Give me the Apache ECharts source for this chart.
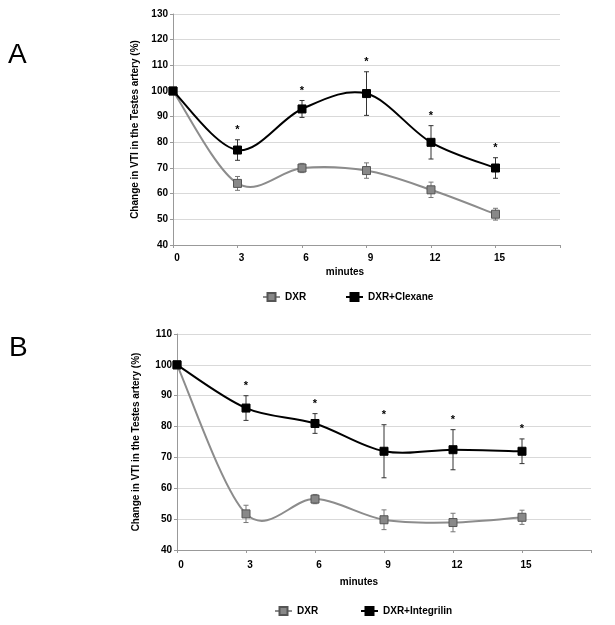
<!DOCTYPE html>
<html><head><meta charset="utf-8">
<script src="https://cdn.jsdelivr.net/npm/echarts@6/dist/echarts.min.js"></script>
<style>html,body{margin:0;padding:0;background:#fff}#c{width:615px;height:625px}</style>
</head><body><div id="c"></div>
<script>
const minutes = [0, 3, 6, 9, 12, 15];
const aDXR = [100, 64, 70, 69, 61.5, 52];
const aDXRErr = [0, 2.7, 1.8, 3, 3, 2.3];
const aClexane = [100, 77, 93, 99, 80, 70];
const aClexaneErr = [0, 4, 3.3, 8.5, 6.5, 4];
const bDXR = [100, 51.7, 56.5, 49.8, 48.9, 50.6];
const bDXRErr = [0, 2.8, 1.5, 3.2, 3, 2.3];
const bIntegrilin = [100, 86, 81, 72, 72.5, 72];
const bIntegrilinErr = [0, 4, 3.2, 8.6, 6.5, 4];
const starred = [false, true, true, true, true, true];
const yTitle = 'Change in VTI in the Testes artery (%)';
const xTitle = 'minutes';

const FONT = "'Liberation Sans', Arial, sans-serif";
const GRAY_LINE = '#8c8c8c';
const chart = echarts.init(document.getElementById('c'), null, {renderer: 'canvas'});

function pts(vals) { return minutes.map((m, i) => [m, vals[i]]); }
function errData(vals, errs) {
  return minutes.map((m, i) => [m, vals[i] - errs[i], vals[i] + errs[i]]).filter((d, i) => errs[i] > 0);
}
function starData(vals, errs) {
  return minutes.map((m, i) => [m, vals[i] + errs[i]]).filter((d, i) => starred[i]);
}
function errSeries(gi, vals, errs, color) {
  return {
    type: 'custom', xAxisIndex: gi, yAxisIndex: gi, z: 2, silent: true,
    data: errData(vals, errs), encode: {x: 0, y: [1, 2]},
    renderItem: function (params, api) {
      const x = api.value(0);
      const lo = api.coord([x, api.value(1)]);
      const hi = api.coord([x, api.value(2)]);
      const w = 2.5;
      const st = {stroke: color, lineWidth: 1};
      return {type: 'group', children: [
        {type: 'line', shape: {x1: lo[0], y1: lo[1], x2: hi[0], y2: hi[1]}, style: st},
        {type: 'line', shape: {x1: lo[0] - w, y1: lo[1], x2: lo[0] + w, y2: lo[1]}, style: st},
        {type: 'line', shape: {x1: hi[0] - w, y1: hi[1], x2: hi[0] + w, y2: hi[1]}, style: st}
      ]};
    }
  };
}
// Excel-style smoothed curve (Catmull-Rom style Bezier, 1/6 control points, pixel space)
function curveSeries(gi, vals, color, z) {
  return {
    type: 'custom', xAxisIndex: gi, yAxisIndex: gi, z: z, silent: true,
    data: pts(vals), encode: {x: 0, y: 1},
    renderItem: function (params, api) {
      const i = params.dataIndex;
      const n = vals.length;
      if (i >= n - 1) return null;
      const P = k => api.coord([minutes[Math.max(0, Math.min(n - 1, k))], vals[Math.max(0, Math.min(n - 1, k))]]);
      const p0 = P(i - 1), p1 = P(i), p2 = P(i + 1), p3 = P(i + 2);
      return {
        type: 'bezierCurve',
        shape: {
          x1: p1[0], y1: p1[1], x2: p2[0], y2: p2[1],
          cpx1: p1[0] + (p2[0] - p0[0]) / 6, cpy1: p1[1] + (p2[1] - p0[1]) / 6,
          cpx2: p2[0] - (p3[0] - p1[0]) / 6, cpy2: p2[1] - (p3[1] - p1[1]) / 6
        },
        style: {stroke: color, lineWidth: 2, fill: null}
      };
    }
  };
}
function starSeries(gi, vals, errs) {
  return {
    type: 'custom', xAxisIndex: gi, yAxisIndex: gi, z: 5, silent: true,
    data: starData(vals, errs), encode: {x: 0, y: 1},
    renderItem: function (params, api) {
      const p = api.coord([api.value(0), api.value(1)]);
      return {type: 'text', x: p[0], y: p[1] - 15,
        style: {text: '*', font: "bold 11px 'Liberation Sans', Arial", fill: '#000', align: 'center', verticalAlign: 'top'}};
    }
  };
}
function markerSeries(gi, name, vals, dark) {
  return {
    type: 'line', name: name, xAxisIndex: gi, yAxisIndex: gi, data: pts(vals),
    symbol: 'rect', symbolSize: 8, z: dark ? 4 : 3,
    lineStyle: {color: dark ? '#000' : GRAY_LINE, width: 2, opacity: 0},
    itemStyle: dark ? {color: '#000', borderColor: '#000', borderWidth: 1} : {color: '#888', borderColor: '#555', borderWidth: 1},
    emphasis: {disabled: true}
  };
}
function xAxis(gi, gap, shift) {
  return {
    type: 'value', gridIndex: gi, min: 0, max: 18, interval: 3,
    axisLine: {show: true, lineStyle: {color: '#999'}},
    axisTick: {show: true, length: 3, lineStyle: {color: '#999'}},
    splitLine: {show: false},
    axisLabel: {formatter: v => v === 18 ? '' : String(v), color: '#000', fontWeight: 'bold', fontSize: 10, fontFamily: FONT,
      margin: gi === 0 ? 8 : 10, padding: [0, 0, 0, 8]},
    name: xTitle, nameLocation: 'middle', nameGap: gap,
    nameTextStyle: {color: '#000', fontWeight: 'bold', fontSize: 10, fontFamily: FONT, padding: [0, shift, 0, 0]}
  };
}
function yAxis(gi, min, max, gap) {
  return {
    type: 'value', gridIndex: gi, min: min, max: max, interval: 10,
    axisLine: {show: true, lineStyle: {color: '#999'}},
    axisTick: {show: true, length: 3, lineStyle: {color: '#999'}},
    splitLine: {show: true, lineStyle: {color: '#d9d9d9', width: 1}},
    axisLabel: {color: '#000', fontWeight: 'bold', fontSize: 10, fontFamily: FONT, margin: 5},
    name: yTitle, nameLocation: 'middle', nameGap: gap,
    nameTextStyle: {color: '#000', fontWeight: 'bold', fontSize: 10, fontFamily: FONT}
  };
}
function legend(name, left, top, gap, dark) {
  return {data: [name], left: left, top: top, itemWidth: 17, itemHeight: 10, itemTextGap: gap,
    lineStyle: {color: dark ? '#000' : GRAY_LINE, width: 2, opacity: 1},
    selectedMode: false, textStyle: {color: '#000', fontWeight: 'bold', fontSize: 10, fontFamily: FONT}};
}

chart.setOption({
  animation: false,
  backgroundColor: '#fff',
  grid: [
    {left: 173, top: 14, width: 387, height: 231},
    {left: 177, top: 334, width: 414, height: 216}
  ],
  xAxis: [xAxis(0, 22, 43), xAxis(1, 27, 50)],
  yAxis: [yAxis(0, 40, 130, 32), yAxis(1, 40, 110, 36)],
  legend: [
    legend('DXR', 257, 287, 12, false),
    legend('DXR+Clexane', 340, 287, 24, true),
    legend('DXR', 269, 601, 13, false),
    legend('DXR+Integrilin', 355, 601, 20, true)
  ],
  graphic: [
    {type: 'text', left: 8, top: 41, style: {text: 'A', font: "28px 'Liberation Sans', Arial", fill: '#000'}},
    {type: 'text', left: 9, top: 334, style: {text: 'B', font: "28px 'Liberation Sans', Arial", fill: '#000'}}
  ],
  series: [
    errSeries(0, aDXR, aDXRErr, '#777'),
    errSeries(0, aClexane, aClexaneErr, '#333'),
    curveSeries(0, aDXR, GRAY_LINE, 3),
    curveSeries(0, aClexane, '#000', 4),
    markerSeries(0, 'DXR', aDXR, false),
    markerSeries(0, 'DXR+Clexane', aClexane, true),
    starSeries(0, aClexane, aClexaneErr),
    errSeries(1, bDXR, bDXRErr, '#777'),
    errSeries(1, bIntegrilin, bIntegrilinErr, '#333'),
    curveSeries(1, bDXR, GRAY_LINE, 3),
    curveSeries(1, bIntegrilin, '#000', 4),
    markerSeries(1, 'DXR', bDXR, false),
    markerSeries(1, 'DXR+Integrilin', bIntegrilin, true),
    starSeries(1, bIntegrilin, bIntegrilinErr)
  ]
});
</script></body></html>
